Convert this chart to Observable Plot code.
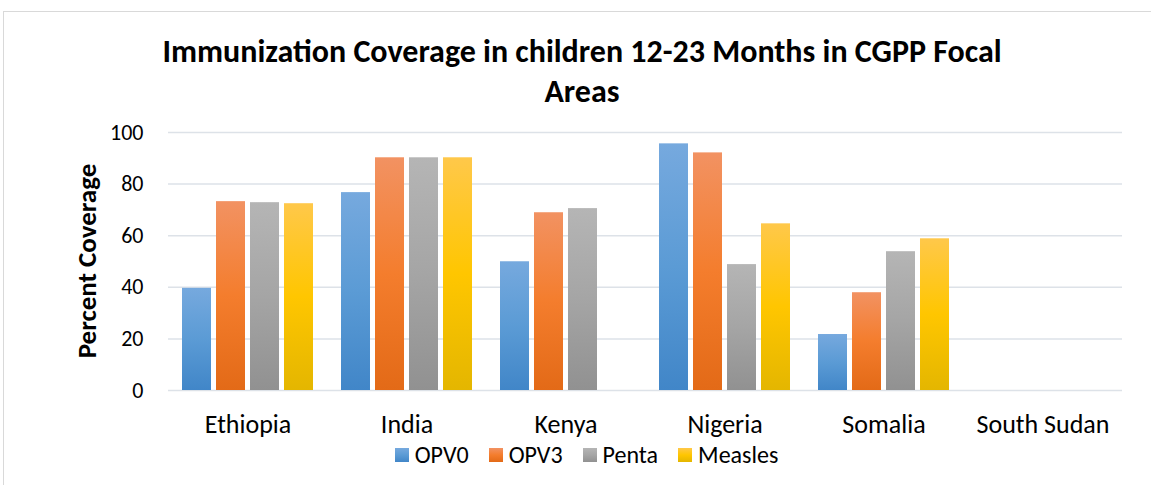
<!DOCTYPE html>
<html>
<head>
<meta charset="utf-8">
<script src="https://cdn.jsdelivr.net/npm/d3@7"></script>
<script src="https://cdn.jsdelivr.net/npm/@observablehq/plot@0.6"></script>
<style>
  html, body { margin: 0; padding: 0; background: #fff; }
  #wrap { position: relative; width: 1151px; height: 485px; overflow: hidden; font-family: Carlito, Lato, "Open Sans", sans-serif; color: #000; }
  #frame { position: absolute; left: 3px; top: 11px; width: 1160px; height: 490px; border: 1px solid #d9d9d9; box-sizing: border-box; }
  #title { position: absolute; left: 0; width: 1164px; top: 32px; text-align: center; font-weight: bold; font-size: 32px; line-height: 40px; }
  #chart { position: absolute; left: 0; top: 0; }
  #ylabel { position: absolute; left: 86px; top: 261px; transform: translate(-50%, -50%) rotate(-90deg); font-weight: bold; font-size: 27px; white-space: nowrap; }
  #legend { position: absolute; left: 0; width: 1173px; top: 444px; display: flex; justify-content: center; font-size: 24px; line-height: 22px; }
  .item { display: flex; align-items: center; margin: 0 10px; }
  .sw { width: 14px; height: 14px; margin-right: 6px; }
</style>
</head>
<body>
<div id="wrap">
  <div id="frame"></div>
  <div id="title">Immunization Coverage in children 12-23 Months in CGPP Focal<br>Areas</div>
  <div id="chart"></div>
  <div id="ylabel">Percent Coverage</div>
  <div id="legend"></div>
</div>
<script>
const countries = ["Ethiopia", "India", "Kenya", "Nigeria", "Somalia", "South Sudan"];
const seriesNames = ["OPV0", "OPV3", "Penta", "Measles"];
const opv0    = [39.6, 76.7, 49.9, 95.6, 21.7, null];
const opv3    = [73.2, 90.2, 68.9, 92.1, 37.9, null];
const penta   = [72.8, 90.2, 70.5, 48.8, 53.8, null];
const measles = [72.4, 90.2, null, 64.6, 58.8, null];
const yTicks  = [0, 20, 40, 60, 80, 100];

const gradients = {
  OPV0:    ["#76a9de", "#5b9bd5", "#4186c8"],
  OPV3:    ["#f29262", "#f47d2d", "#e36a17"],
  Penta:   ["#b5b5b5", "#a5a5a5", "#919191"],
  Measles: ["#ffc84a", "#ffc600", "#e4b600"]
};

const valuesBySeries = [opv0, opv3, penta, measles];
const rows = [];
countries.forEach((c, i) => {
  seriesNames.forEach((s, j) => {
    rows.push({country: c, series: s, value: valuesBySeries[j][i]});
  });
});

const plot = Plot.plot({
  width: 1151,
  height: 485,
  marginLeft: 166,
  marginRight: 28,
  marginTop: 132,
  marginBottom: 95,
  style: {fontFamily: "Carlito, Lato, 'Open Sans', sans-serif", background: "transparent", color: "#000"},
  fx: {domain: countries, padding: 0, label: null},
  x: {domain: seriesNames, paddingInner: 0.155, paddingOuter: 0.4, axis: null},
  y: {domain: [0, 100], label: null},
  color: {domain: seriesNames, range: seriesNames.map(s => `url(#grad-${s})`)},
  marks: [
    Plot.gridY(yTicks, {stroke: "#dde2e8", strokeOpacity: 1, strokeWidth: 1.5}),
    Plot.axisY({ticks: yTicks, tickSize: 0, tickPadding: 25, fontSize: 22, label: null}),
    Plot.axisFx({anchor: "bottom", tickSize: 0, tickPadding: 24, fontSize: 26, label: null}),
    Plot.barY(rows, {fx: "country", x: "series", y: "value", fill: "series"})
  ]
});

// gradient definitions
const ns = "http://www.w3.org/2000/svg";
const defs = document.createElementNS(ns, "defs");
for (const s of seriesNames) {
  const g = document.createElementNS(ns, "linearGradient");
  g.setAttribute("id", `grad-${s}`);
  g.setAttribute("x1", "0"); g.setAttribute("y1", "0");
  g.setAttribute("x2", "0"); g.setAttribute("y2", "1");
  [[0, gradients[s][0]], [0.5, gradients[s][1]], [1, gradients[s][2]]].forEach(([o, col]) => {
    const st = document.createElementNS(ns, "stop");
    st.setAttribute("offset", o);
    st.setAttribute("stop-color", col);
    g.appendChild(st);
  });
  defs.appendChild(g);
}
plot.insertBefore(defs, plot.firstChild);
document.getElementById("chart").appendChild(plot);

// legend
const legend = document.getElementById("legend");
for (const s of seriesNames) {
  const item = document.createElement("div");
  item.className = "item";
  const sw = document.createElement("div");
  sw.className = "sw";
  sw.style.background = `linear-gradient(${gradients[s][0]}, ${gradients[s][1]}, ${gradients[s][2]})`;
  const t = document.createElement("span");
  t.textContent = s;
  item.appendChild(sw); item.appendChild(t);
  legend.appendChild(item);
}
</script>
</body>
</html>
